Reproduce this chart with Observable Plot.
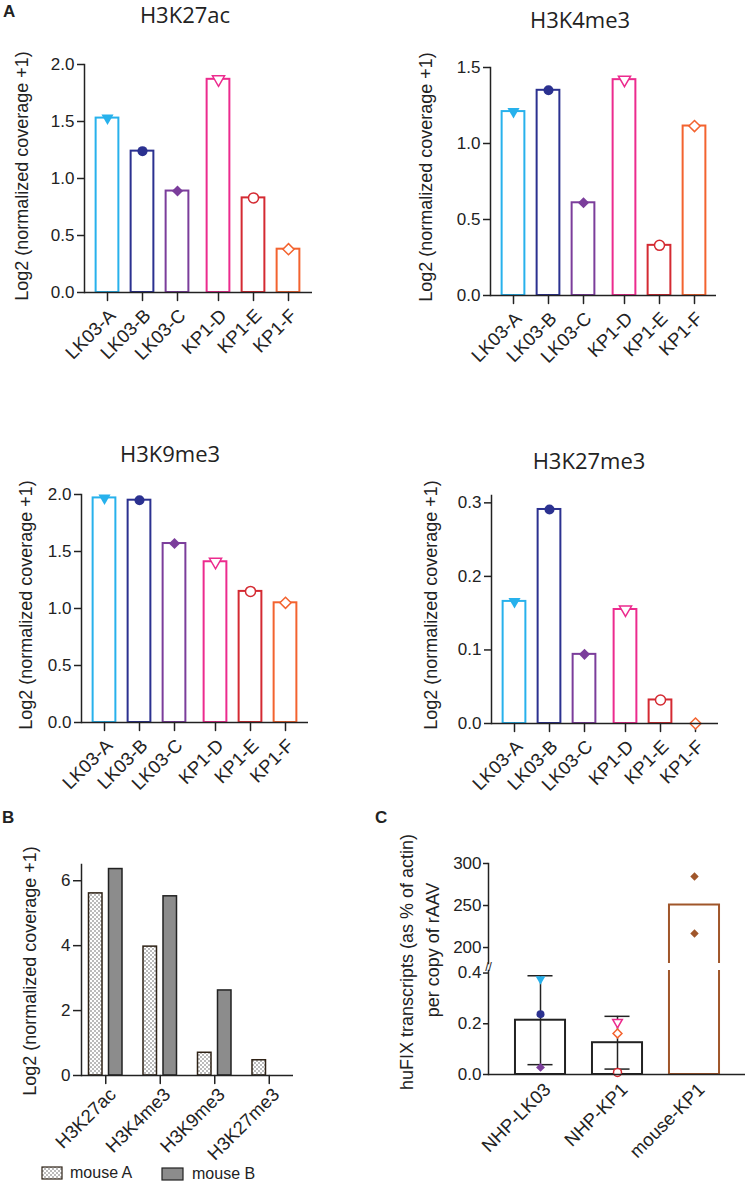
<!DOCTYPE html>
<html>
<head>
<meta charset="utf-8">
<script src="https://cdn.jsdelivr.net/npm/d3@7"></script>
<script src="https://cdn.jsdelivr.net/npm/@observablehq/plot@0.6"></script>
<style>
  body { margin: 0; background: #fff; }
  #fig { position: relative; width: 747px; height: 1182px; overflow: hidden;
         font-family: "Liberation Sans", Arial, sans-serif; color: #222; }
  .ylab { position: absolute; white-space: nowrap; font-size: 18px; line-height: 1;
          transform: translate(-50%, -50%) rotate(-90deg); }
  .title { position: absolute; white-space: nowrap; font-family: "Open Sans", sans-serif;
           font-size: 22px; line-height: 1.2; transform: translate(-50%, -50%); }
  .letter { position: absolute; font-weight: bold; font-size: 17px; line-height: 1.2;
            transform: translate(0, -50%); }
</style>
</head>
<body>
<div id="fig"></div>
<script>
// samples shown in panel A and C
const samples = ["LK03-A", "LK03-B", "LK03-C", "KP1-D", "KP1-E", "KP1-F"];
const sampleGroup = ["LK03", "LK03", "LK03", "KP1", "KP1", "KP1"];
const sampleColors = ["#27b1ec", "#2b3190", "#7b3d9b", "#ec2b8e", "#d42a32", "#f3632f"];
const sampleShape = ["triangleDown", "circle", "diamond2", "triangleDown", "circle", "diamond2"];
const sampleFilled = [true, true, true, false, false, false];

// panel A values, log2 (normalized coverage + 1)
const h3k27ac = [1.53, 1.24, 0.89, 1.87, 0.83, 0.38];
const h3k4me3 = [1.21, 1.35, 0.61, 1.42, 0.33, 1.115];
const h3k9me3 = [1.97, 1.95, 1.57, 1.41, 1.15, 1.05];
const h3k27me3 = [0.166, 0.291, 0.094, 0.155, 0.032, 0.0];

// panel B
const histoneMarks = ["H3K27ac", "H3K4me3", "H3K9me3", "H3K27me3"];
const mouseA = [5.61, 3.97, 0.70, 0.47];
const mouseB = [6.36, 5.52, 2.62, 0];

// panel C, huFIX transcripts
const exprGroups = ["NHP-LK03", "NHP-KP1", "mouse-KP1"];
const lk03Expr = [0.376, 0.238, 0.028];   // LK03-A, LK03-B, LK03-C
const kp1Expr = [0.206, 0.008, 0.162];    // KP1-D, KP1-E, KP1-F
const mouseKp1Expr = [284.5, 216.7];
const brown = "#a0562a";

const FS = 17;     // y tick labels
const XFS = 18.5;  // rotated category labels
const fig = document.getElementById("fig");
const baseStyle = {fontFamily: '"Liberation Sans", Arial, sans-serif', fontSize: FS + "px",
                   color: "#222", background: "transparent", overflow: "visible"};

const triangleDown = {
  draw(ctx, size) {
    const y = -Math.sqrt(size / (Math.sqrt(3) * 3));
    ctx.moveTo(0, -2 * y);
    ctx.lineTo(-Math.sqrt(3) * y, y);
    ctx.lineTo(Math.sqrt(3) * y, y);
    ctx.closePath();
  }
};
const symbolOf = s => s === "triangleDown" ? triangleDown : s;
// plain line used as a downward axis tick
const tickShape = {draw(ctx, l) { ctx.moveTo(0, 0); ctx.lineTo(0, -l); }};

function place(node, left, top) {
  node.style.position = "absolute";
  node.style.left = left + "px";
  node.style.top = top + "px";
  fig.appendChild(node);
}
function addText(cls, text, x, y) {
  const d = document.createElement("div");
  d.className = cls;
  d.textContent = text;
  d.style.left = x + "px";
  d.style.top = y + "px";
  fig.appendChild(d);
}

// x ticks (optional) and rotated category labels under the frame
function xLabels(cats, {dx = 0, tick = true, tdx = 3, tdy = 14} = {}) {
  const out = [];
  if (tick) out.push(Plot.vector(cats, {x: d => d, y: () => 0, length: 8, rotate: 180, anchor: "start",
    shape: tickShape, stroke: "#222", strokeWidth: 1.5, dx}));
  out.push(Plot.text(cats, {x: d => d, frameAnchor: "bottom", text: d => d, rotate: -45,
    textAnchor: "end", lineAnchor: "middle", dx: dx + tdx, dy: tdy, fontSize: XFS, fill: "#222"}));
  return out;
}

function sampleDot(row, i, opts) {
  const filled = sampleFilled[i];
  return Plot.dot([row], {
    x: opts.x, y: opts.y, dx: opts.dx || 0,
    symbol: symbolOf(sampleShape[i]),
    r: sampleShape[i] === "triangleDown" ? opts.r * 0.9 : opts.r,
    fill: filled ? sampleColors[i] : "white",
    stroke: filled ? "none" : sampleColors[i],
    strokeWidth: 1.5
  });
}

// ---- panel A ----
function panelA(values, cfg) {
  const rows = samples.map((s, i) => ({sample: s, group: sampleGroup[i], value: values[i], i}));
  const marks = [];
  for (const g of ["LK03", "KP1"]) {
    const dx = g === "LK03" ? -3 : 3;
    const sub = rows.filter(d => d.group === g);
    marks.push(Plot.barY(sub, {x: "sample", y: "value", dx, fill: "white",
      stroke: d => sampleColors[d.i], strokeWidth: 2}));
    marks.push(...xLabels(sub.map(d => d.sample), {dx, tdx: 5, tdy: 20}));
  }
  rows.forEach(d => marks.push(sampleDot(d, d.i, {x: "sample", y: "value", r: 5,
    dx: d.group === "LK03" ? -3 : 3})));
  return Plot.plot({
    width: cfg.width, height: cfg.height,
    marginLeft: cfg.mL, marginRight: cfg.mR, marginTop: cfg.mT, marginBottom: cfg.height - cfg.y0,
    style: baseStyle,
    x: {type: "band", domain: samples, paddingInner: 0.35, paddingOuter: 0.175, round: false,
        insetLeft: cfg.insL, insetRight: cfg.insR, axis: null},
    y: {domain: [0, cfg.yMax]},
    marks: [
      Plot.axisY({ticks: cfg.ticks, tickFormat: d3.format(".1f"), tickSize: 7, tickPadding: 3,
        label: null, strokeWidth: 1.5, fontSize: FS}),
      ...marks,
      Plot.frame({anchor: "left", strokeWidth: 1.5}),
      Plot.ruleY([0], {strokeWidth: 1.5})
    ]
  });
}

place(panelA(h3k27ac, {width: 373, height: 372, mL: 84, mR: 61, mT: 64, y0: 292,
  insL: 8.5, insR: 9.5, yMax: 2, ticks: [0, 0.5, 1, 1.5, 2]}), 0, 0);
place(panelA(h3k4me3, {width: 374, height: 375, mL: 117, mR: 31, mT: 67, y0: 295,
  insL: 8.5, insR: 7.5, yMax: 1.5, ticks: [0, 0.5, 1, 1.5]}), 373, 0);
place(panelA(h3k9me3, {width: 373, height: 420, mL: 81, mR: 65, mT: 114, y0: 342,
  insL: 8.5, insR: 8.5, yMax: 2, ticks: [0, 0.5, 1, 1.5, 2]}), 0, 380);
place(panelA(h3k27me3, {width: 374, height: 420, mL: 118, mR: 29, mT: 115, y0: 343,
  insL: 8.5, insR: 8.5, yMax: 0.31, ticks: [0, 0.1, 0.2, 0.3]}), 373, 380);

addText("letter", "A", 3, 12);
addText("title", "H3K27ac", 185, 14);
addText("title", "H3K4me3", 580, 19);
addText("title", "H3K9me3", 170, 453);
addText("title", "H3K27me3", 589, 460);
const covLabel = "Log2 (normalized coverage +1)";
addText("ylab", covLabel, 22, 176);
addText("ylab", covLabel, 426, 177);
addText("ylab", covLabel, 26, 605);
addText("ylab", covLabel, 431, 605);

// ---- panel B ----
function dotPattern(id) {
  return () => {
    const defs = d3.create("svg:defs");
    const p = defs.append("pattern").attr("id", id).attr("width", 4).attr("height", 4)
      .attr("patternUnits", "userSpaceOnUse");
    p.append("rect").attr("width", 4).attr("height", 4).attr("fill", "white");
    p.append("circle").attr("cx", 1).attr("cy", 1).attr("r", 0.75).attr("fill", "#555");
    p.append("circle").attr("cx", 3).attr("cy", 3).attr("r", 0.75).attr("fill", "#555");
    return defs.node();
  };
}
const rowsA = histoneMarks.map((m, i) => ({mark: m, value: mouseA[i]}));
const rowsB = histoneMarks.map((m, i) => ({mark: m, value: mouseB[i]})).filter(d => d.value > 0);

place(Plot.plot({
  width: 373, height: 385, marginLeft: 81, marginRight: 80, marginTop: 94, marginBottom: 80,
  style: baseStyle,
  x: {type: "band", domain: histoneMarks, padding: 0, round: false, insetLeft: -3, insetRight: -3,
      axis: null},
  y: {domain: [0, 6.5]},
  marks: [
    dotPattern("dotsB"),
    Plot.axisY({ticks: [0, 2, 4, 6], tickFormat: d3.format("d"), tickSize: 8, tickPadding: 3,
      label: null, strokeWidth: 1.5, fontSize: FS}),
    Plot.barY(rowsA, {x: "mark", y: "value", dx: -10, insetLeft: 20.5, insetRight: 20.5,
      fill: "url(#dotsB)", stroke: "#2e2216", strokeWidth: 1.5}),
    Plot.barY(rowsB, {x: "mark", y: "value", dx: 10, insetLeft: 20.5, insetRight: 20.5,
      fill: "#8c8c8c", stroke: "#222", strokeWidth: 1.5}),
    ...xLabels(histoneMarks, {tdx: 7, tdy: 16}),
    Plot.frame({anchor: "left", strokeWidth: 1.5}),
    Plot.ruleY([0], {strokeWidth: 1.5})
  ]
}), 0, 770);

addText("letter", "B", 2, 818);
addText("ylab", covLabel, 30, 971);

// legend for B
const leg = d3.create("svg").attr("width", 300).attr("height", 28)
  .style("font-family", '"Liberation Sans", Arial, sans-serif');
leg.append(dotPattern("dotsLeg"));
leg.append("rect").attr("x", 42).attr("y", 7).attr("width", 20).attr("height", 12)
  .attr("fill", "url(#dotsLeg)").attr("stroke", "#2e2216").attr("stroke-width", 1.2);
leg.append("text").attr("x", 70).attr("y", 18).attr("font-size", 16).attr("fill", "#222").text("mouse A");
leg.append("rect").attr("x", 162).attr("y", 8).attr("width", 21).attr("height", 12)
  .attr("fill", "#8c8c8c").attr("stroke", "#222").attr("stroke-width", 1.2);
leg.append("text").attr("x", 192).attr("y", 19).attr("font-size", 16).attr("fill", "#222").text("mouse B");
place(leg.node(), 0, 1160);

// ---- panel C (broken y axis: upper and lower segments) ----
const nhpSets = [
  {group: "NHP-LK03", vals: lk03Expr, idx: [0, 1, 2]},
  {group: "NHP-KP1", vals: kp1Expr, idx: [3, 4, 5]}
];
const nhpSummary = nhpSets.map(s => ({group: s.group, mean: d3.mean(s.vals), sd: d3.deviation(s.vals)}));
const mouseSummary = [{group: "mouse-KP1", mean: d3.mean(mouseKp1Expr)}];
const xC = {type: "band", domain: exprGroups, paddingInner: 0.35, paddingOuter: 0.175, round: false,
            insetLeft: 13.5, insetRight: 12.5, axis: null};

// upper segment
place(Plot.plot({
  width: 374, height: 193, marginLeft: 115, marginRight: 2, marginTop: 93, marginBottom: 0,
  style: baseStyle,
  x: xC,
  y: {domain: [181, 300]},
  marks: [
    Plot.axisY({ticks: [200, 250, 300], tickSize: 5, tickPadding: 2, label: null, strokeWidth: 1.5,
      fontSize: FS}),
    Plot.barY(mouseSummary, {x: "group", y1: 0, y2: "mean", fill: "none", stroke: brown,
      strokeWidth: 2, clip: true}),
    Plot.dot(mouseKp1Expr, {x: () => "mouse-KP1", y: d => d, symbol: "diamond2", r: 3.8, fill: brown}),
    Plot.frame({anchor: "left", strokeWidth: 1.5})
  ]
}), 373, 770);

// lower segment
const dotsC = [];
nhpSets.forEach(s => s.vals.forEach((v, k) => {
  dotsC.push(sampleDot({group: s.group, value: v}, s.idx[k], {x: "group", y: "value", r: 4}));
}));
place(Plot.plot({
  width: 374, height: 404, marginLeft: 115, marginRight: 2, marginTop: 200, marginBottom: 100,
  style: baseStyle,
  x: xC,
  y: {domain: [0, 0.41]},
  marks: [
    Plot.axisY({ticks: [0, 0.2, 0.4], tickFormat: d3.format(".1f"), tickSize: 5, tickPadding: 2,
      label: null, strokeWidth: 1.5, fontSize: FS}),
    Plot.barY(nhpSummary, {x: "group", y: "mean", fill: "none", stroke: "#222", strokeWidth: 2}),
    Plot.barY(mouseSummary, {x: "group", y1: 0, y2: "mean", fill: "none", stroke: brown,
      strokeWidth: 2, clip: true}),
    Plot.ruleX(nhpSummary, {x: "group", y1: d => d.mean - d.sd, y2: d => d.mean + d.sd,
      stroke: "#222", strokeWidth: 1.5}),
    Plot.tickY(nhpSummary, {x: "group", y: d => d.mean + d.sd, insetLeft: 12.5, insetRight: 12.5,
      stroke: "#222", strokeWidth: 1.5}),
    Plot.tickY(nhpSummary, {x: "group", y: d => d.mean - d.sd, insetLeft: 12.5, insetRight: 12.5,
      stroke: "#222", strokeWidth: 1.5}),
    ...dotsC,
    ...xLabels(exprGroups, {tick: false, tdx: 7, tdy: 12}),
    Plot.frame({anchor: "left", strokeWidth: 1.5}),
    Plot.ruleY([0], {strokeWidth: 1.5}),
    Plot.text(["//"], {frameAnchor: "top-left", text: d => d, textAnchor: "middle",
      lineAnchor: "middle", dy: -3, fontSize: 12, fill: "#222"})
  ]
}), 373, 770);

addText("letter", "C", 375, 818);
addText("ylab", "huFIX transcripts (as % of actin)", 407, 962);
addText("ylab", "per copy of rAAV", 433, 950);
</script>
</body>
</html>
